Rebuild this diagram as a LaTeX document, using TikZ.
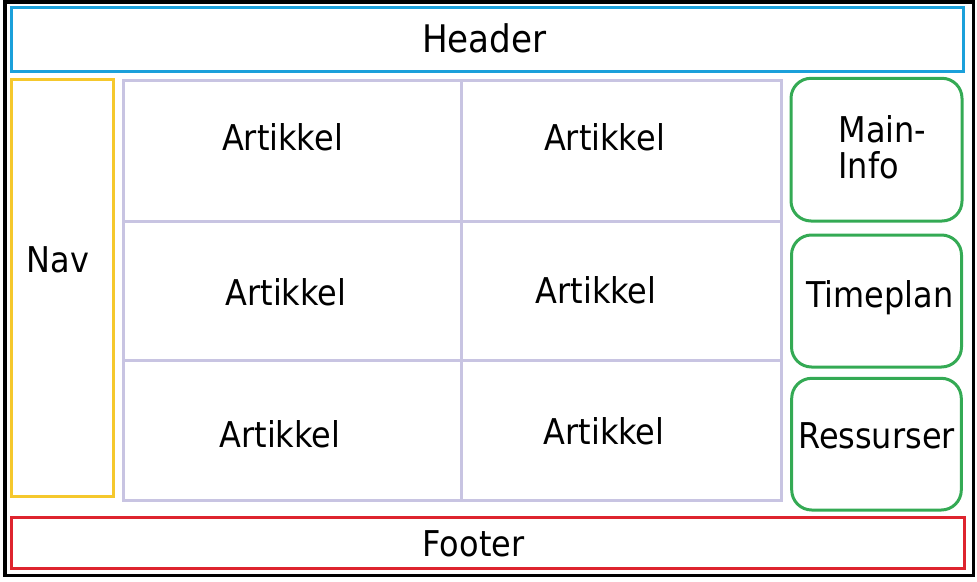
\documentclass[tikz,border=0pt]{standalone}
\usepackage{fontspec}
\setmainfont{DejaVu Sans}[FakeStretch=0.9]
\usepackage{tikz}
\usetikzlibrary{positioning}
\definecolor{headerblue}{RGB}{27,160,218}
\definecolor{navyellow}{RGB}{245,200,45}
\definecolor{gridlilac}{RGB}{200,196,226}
\definecolor{sidegreen}{RGB}{52,170,84}
\definecolor{footerred}{RGB}{222,36,46}
\tikzset{box/.style = {line width=3pt}}

\begin{document}
\begin{tikzpicture}[x=1pt,y=-1pt,label text/.style={anchor=base,inner sep=0pt,font=\fontsize{35.5}{36}\selectfont}]
                \useasboundingbox (0,0) rectangle (977,581);
                \draw[line width=3.5pt] (5,1.8) rectangle (973.5,575.5);

                % header, nav, footer
                \draw[box,headerblue] (11.7,7.7) rectangle (963.5,71);
                \draw[box,navyellow] (11.7,79) rectangle (113.3,496.7);
                \draw[box,footerred] (11.7,517.7) rectangle (964.5,568.3);

                % article grid
                \draw[box,gridlilac] (123.7,80.7) rectangle (781.3,500.3);
                \draw[box,gridlilac] (461,80.7) -- (461,500.3);
                \draw[box,gridlilac] (123.7,221) -- (781.3,221);
                \draw[box,gridlilac] (123.7,360.5) -- (781.3,360.5);

                % side boxes
                \draw[box,sidegreen,rounded corners=20pt] (791,78.3) rectangle (962,221);
                \draw[box,sidegreen,rounded corners=20pt] (791.5,235) rectangle (961.5,367);
                \draw[box,sidegreen,rounded corners=20pt] (791.7,378.3) rectangle (961.3,510);

                \node[label text,font=\fontsize{38}{40}\selectfont] (header) at (484.5,52) {Header};
                \node[label text] (nav) at (58,272) {Nav};
                \node[label text] (art1) at (282.5,150.5) {Artikkel};
                \node[label text] (art2) at (604.5,150.5) {Artikkel};
                \node[label text] (art3) at (286,305) {Artikkel};
                \node[label text] (art4) at (596,303) {Artikkel};
                \node[label text] (art5) at (280,447) {Artikkel};
                \node[label text] (art6) at (604,444) {Artikkel};
                \node[label text,anchor=base west,align=left] (info) at (838.3,178) {Main-\\Info};
                \node[label text] (plan) at (880,307) {Timeplan};
                \node[label text] (ress) at (876.5,448.3) {Ressurser};
                \node[label text] (footer) at (473.5,556) {Footer};
            \end{tikzpicture}
\end{document}
